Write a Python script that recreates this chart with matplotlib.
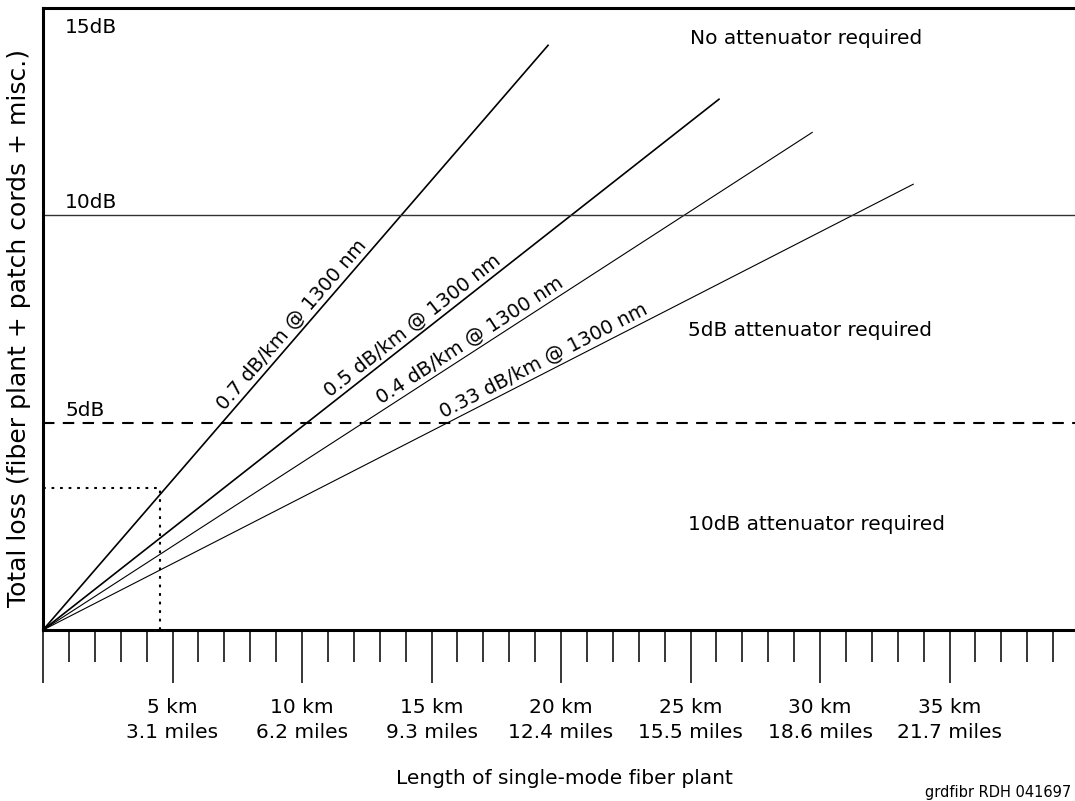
import numpy as np
import matplotlib
matplotlib.use('Agg')
import matplotlib.pyplot as plt

# attenuation lines: end point of each drawn line (km, dB)
line_end_km = [19.5, 26.1, 29.7, 33.6]
line_end_db = [14.1, 12.8, 12.0, 10.75]
label_km = [9.9, 14.5, 16.7, 19.5]
line_labels = ['0.7 dB/km @ 1300 nm', '0.5 dB/km @ 1300 nm',
               '0.4 dB/km @ 1300 nm', '0.33 dB/km @ 1300 nm']

# x axis ticks
km_major = [0, 5, 10, 15, 20, 25, 30, 35]
km_labels = ['', '5 km\n3.1 miles', '10 km\n6.2 miles', '15 km\n9.3 miles',
             '20 km\n12.4 miles', '25 km\n15.5 miles', '30 km\n18.6 miles',
             '35 km\n21.7 miles']
km_minor = [k for k in range(0, 40) if k % 5 != 0]

# loss levels
levels_db = [5, 10, 15]
level_labels = ['5dB', '10dB', '15dB']

# example point (dotted guide)
ex_km = 4.5
ex_db = 3.43

regions = ['No attenuator required', '5dB attenuator required', '10dB attenuator required']
region_pos = [(25.0, 14.14), (24.9, 7.1), (24.9, 2.41)]

plt.rcParams['font.family'] = 'DejaVu Sans'
fs = 14.5

fig = plt.figure(figsize=(10.75, 8.01), dpi=100)
ax = fig.add_axes([43/1075, 171/801, 1032/1075, 622/801])
ax.set_xlim(0, 1032/25.9)
ax.set_ylim(0, 15)

# attenuation lines
widths = [1.2, 1.2, 0.8, 0.8]
for xe, ye, lw in zip(line_end_km, line_end_db, widths):
    ax.plot([0, xe], [0, ye], color='black', lw=lw, clip_on=False)

# rotated labels along the lines
for xe, ye, xk, txt in zip(line_end_km, line_end_db, label_km, line_labels):
    r = ye / xe
    ang = ax.transData.transform_angles(np.array([np.degrees(np.arctan(r))]),
                                        np.array([[xk, r * xk]]))[0]
    ax.text(xk, r * xk + 0.05, txt, rotation=ang, rotation_mode='anchor',
            ha='center', va='bottom', fontsize=14)

# reference levels
ax.axhline(10, color='#333333', lw=1.0)
ax.axhline(5, color='black', lw=1.5, linestyle=(0, (5.5, 4)))
for lv, lab in zip(levels_db, level_labels):
    yy = lv + 0.17 if lv < 15 else 14.4
    ax.text(0.85, yy, lab, fontsize=fs, ha='left', va='baseline')

# dotted guide
ax.plot([0, ex_km], [ex_db, ex_db], color='black', lw=1.5, linestyle=(0, (1.3, 2.8)))
ax.plot([ex_km, ex_km], [0, ex_db], color='black', lw=1.5, linestyle=(0, (1.3, 2.8)))

for txt, (xr, yr) in zip(regions, region_pos):
    ax.text(xr, yr, txt, fontsize=fs, ha='left', va='baseline')

# axes styling
for s in ['top', 'left', 'bottom']:
    ax.spines[s].set_linewidth(2.2)
ax.spines['right'].set_visible(False)
ax.set_yticks([])
ax.set_xticks(km_major)
ax.set_xticklabels(km_labels, fontsize=fs, linespacing=1.4)
ax.set_xticks(km_minor, minor=True)
ax.tick_params(axis='x', which='major', length=38, width=1.1, direction='out', pad=11)
ax.tick_params(axis='x', which='minor', length=23, width=1.1, direction='out')

fig.text(19/1075, 1 - 328/801, 'Total loss (fiber plant + patch cords + misc.)',
         rotation=90, ha='center', va='center', fontsize=18)
fig.text(564/1075, 1 - 779/801, 'Length of single-mode fiber plant',
         ha='center', va='center', fontsize=fs)
fig.text(925/1075, 1/801, 'grdfibr RDH 041697', ha='left', va='bottom', fontsize=10.5)

fig.savefig('out.png', dpi=100)
